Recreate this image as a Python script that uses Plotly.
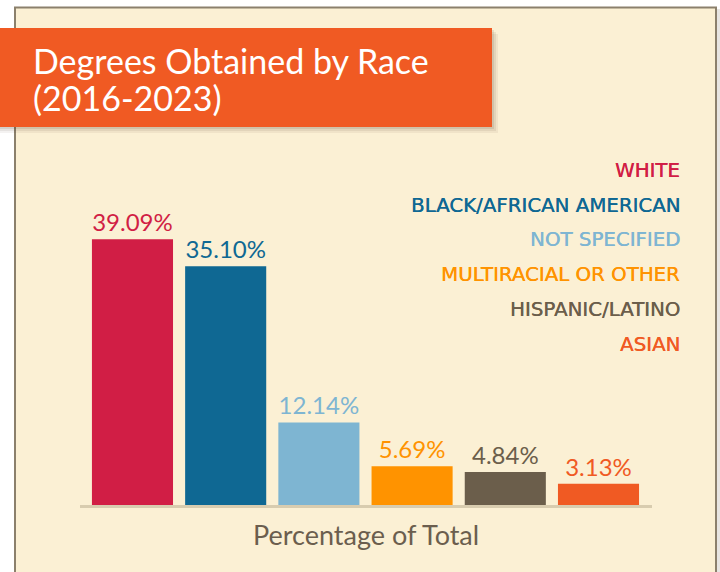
import plotly.graph_objects as go

# ---- data ----
categories = ["White", "Black/African American", "Not Specified",
              "Multiracial or Other", "Hispanic/Latino", "Asian"]
legend_labels = ["WHITE", "BLACK/AFRICAN AMERICAN", "NOT SPECIFIED",
                 "MULTIRACIAL OR OTHER", "HISPANIC/LATINO", "ASIAN"]
values = [39.09, 35.10, 12.14, 5.69, 4.84, 3.13]
colors = ["#D11E45", "#0F6893", "#7EB5D2", "#FF9300", "#6B5E4B", "#F05A23"]
title_lines = ["Degrees Obtained by Race", "(2016-2023)"]
axis_title = "Percentage of Total"

# ---- layout geometry (pixels) ----
FW, FH = 720, 572
L, W = 80, 572
T, H = 150, 355


def px(x):
    return (x - L) / W


def py(y):
    return (T + H - y) / H


fig = go.Figure()
fig.add_trace(go.Bar(
    x=categories, y=values,
    marker=dict(color=colors, line=dict(width=0)),
    width=0.87,
    text=[f"{v:.2f}%" for v in values],
    textposition="outside",
    textfont=dict(family="Lato", size=24, color=colors),
    cliponaxis=False,
    hoverinfo="skip",
))

shapes = []
# panel shadow
shapes.append(dict(type="rect", xref="paper", yref="paper",
                   x0=px(16), x1=px(720), y0=py(9), y1=py(600),
                   fillcolor="rgba(120,110,95,0.18)", line=dict(width=0),
                   layer="below"))
# panel
shapes.append(dict(type="rect", xref="paper", yref="paper",
                   x0=px(15), x1=px(716), y0=py(7.5), y1=py(600),
                   fillcolor="#FBF0D4", line=dict(color="#8B806C", width=2),
                   layer="below"))
# title box shadow
for i, a in enumerate([0.06, 0.08, 0.10]):
    d = 6 - 2 * i
    shapes.append(dict(type="rect", xref="paper", yref="paper",
                       x0=px(0), x1=px(492 + d), y0=py(28 + d), y1=py(127 + d),
                       fillcolor=f"rgba(60,40,20,{a})", line=dict(width=0),
                       layer="above"))
# title box
shapes.append(dict(type="rect", xref="paper", yref="paper",
                   x0=px(0), x1=px(492), y0=py(28), y1=py(127),
                   fillcolor="#F05A23", line=dict(width=0), layer="above"))

annotations = []
annotations.append(dict(xref="paper", yref="paper", x=px(31), y=py(61),
                        text=title_lines[0], showarrow=False,
                        xanchor="left", yanchor="middle",
                        font=dict(family="Lato", size=34, color="white")))
annotations.append(dict(xref="paper", yref="paper", x=px(31), y=py(97),
                        text=title_lines[1], showarrow=False,
                        xanchor="left", yanchor="middle",
                        font=dict(family="Lato", size=34, color="white")))
for i, (lab, c) in enumerate(zip(legend_labels, colors)):
    annotations.append(dict(xref="paper", yref="paper", x=px(681.5),
                            y=py(170.5 + i * 34.7), text=lab, showarrow=False,
                            xanchor="right", yanchor="middle",
                            font=dict(family="DejaVu Sans", size=19.8,
                                      color=c, shadow=f"0.35px 0 0 {c}")))
annotations.append(dict(xref="paper", yref="paper", x=px(366), y=py(534),
                        text=axis_title, showarrow=False,
                        xanchor="center", yanchor="middle",
                        font=dict(family="Lato", size=27, color="#6B5E4E")))

fig.update_layout(
    width=FW, height=FH, autosize=False,
    margin=dict(l=L, r=FW - L - W, t=T, b=FH - T - H, pad=0),
    paper_bgcolor="white", plot_bgcolor="rgba(0,0,0,0)",
    showlegend=False,
    shapes=shapes, annotations=annotations,
    xaxis=dict(type="category", range=[-0.563, 5.574], showticklabels=False,
               showgrid=False, zeroline=False, showline=True,
               linecolor="#D8CCAF", linewidth=3, ticks=""),
    yaxis=dict(range=[0, 52.2], visible=False, showgrid=False, zeroline=False),
)

fig.write_html("out.html",
               config={"displayModeBar": False},
               post_script="document.body.style.margin='0';"
                           "document.body.style.overflow='hidden';")
